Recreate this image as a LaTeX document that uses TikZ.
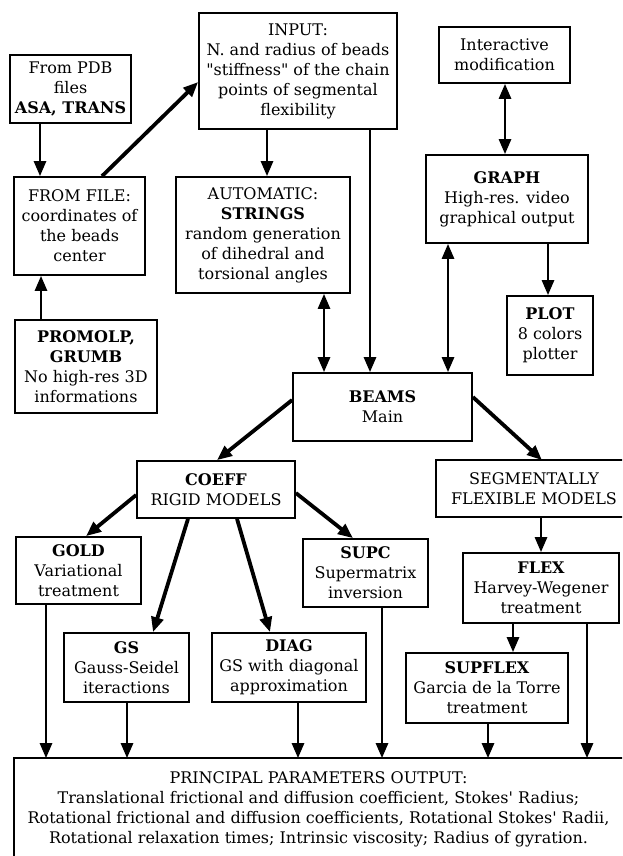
\documentclass[tikz,border=0pt]{standalone}
\usepackage{fontspec}
\setmainfont{DejaVu Serif}[Ligatures=TeXOff]
\usetikzlibrary{arrows.meta}
\begin{document}
\begin{tikzpicture}[x=1pt,y=-1pt,
  bx/.style={draw,line width=1.7pt,align=center,inner sep=0pt,font=\fontsize{16}{20}\selectfont},
  open/.style={bx,draw=none},
  edge/.style={line width=1.7pt},
  arr/.style={line width=2.7pt,-{Triangle[length=15pt,width=12pt]}},
  darr/.style={line width=2.7pt,{Triangle[length=15pt,width=12pt]}-{Triangle[length=15pt,width=12pt]}},
  thk/.style={line width=3.8pt}]
\useasboundingbox (0,0) rectangle (622,856);
\clip (0,0) rectangle (622,856);
\fill[white] (0,0) rectangle (622,856);

\node[bx,minimum width=121pt,minimum height=68pt] (pdb) at (70.5,89) {From PDB\\files\\\textbf{ASA, TRANS}};
\node[bx,minimum width=198pt,minimum height=116pt] (input) at (298,71) {INPUT:\\N. and radius of beads\\"stiffness" of the chain\\points of segmental\\flexibility};
\node[bx,minimum width=131pt,minimum height=56pt] (inter) at (504.5,55) {Interactive\\modification};
\node[bx,minimum width=131pt,minimum height=98pt] (fromfile) at (79.5,226) {FROM FILE:\\coordinates of\\the beads\\center};
\node[bx,minimum width=174pt,minimum height=116pt] (auto) at (263,235) {AUTOMATIC:\\\textbf{STRINGS}\\random generation\\of dihedral and\\torsional angles};
\node[bx,minimum width=162pt,minimum height=88pt] (graph) at (507,199) {\textbf{GRAPH}\\High-res. video\\graphical output};
\node[bx,minimum width=86pt,minimum height=79pt] (plot) at (550,335.5) {\textbf{PLOT}\\8 colors\\plotter};
\node[bx,minimum width=142pt,minimum height=93pt] (promolp) at (86,366.5) {\textbf{PROMOLP,}\\\textbf{GRUMB}\\No high-res 3D\\informations};
\node[bx,minimum width=179pt,minimum height=68pt] (beams) at (382.5,407) {\textbf{BEAMS}\\Main};
\node[bx,minimum width=158pt,minimum height=57pt] (coeff) at (216,489.5) {\textbf{COEFF}\\RIGID MODELS};
\node[open,minimum width=194pt,minimum height=55pt] (seg) at (534,488.5) {SEGMENTALLY\\FLEXIBLE MODELS};
\draw[edge] ([xshift=30pt]seg.north east) -| (seg.south west) -- ([xshift=30pt]seg.south east);
\node[bx,minimum width=125pt,minimum height=67pt] (gold) at (78.5,570.5) {\textbf{GOLD}\\Variational\\treatment};
\node[bx,minimum width=125pt,minimum height=68pt] (supc) at (365.5,573) {\textbf{SUPC}\\Supermatrix\\inversion};
\node[bx,minimum width=156pt,minimum height=70pt] (flex) at (541,588) {\textbf{FLEX}\\Harvey-Wegener\\treatment};
\node[bx,minimum width=125pt,minimum height=69pt] (gs) at (126.5,667.5) {\textbf{GS}\\Gauss-Seidel\\iteractions};
\node[bx,minimum width=154pt,minimum height=69pt] (diag) at (289,667.5) {\textbf{DIAG}\\GS with diagonal\\approximation};
\node[bx,minimum width=162pt,minimum height=70pt] (supflex) at (487,688) {\textbf{SUPFLEX}\\Garcia de la Torre\\treatment};
\node[open,minimum width=607pt,minimum height=100pt] (out) at (318.5,809) {PRINCIPAL PARAMETERS OUTPUT:\\Translational frictional and diffusion coefficient, Stokes' Radius;\\Rotational frictional and diffusion coefficients, Rotational Stokes' Radii,\\Rotational relaxation times; Intrinsic viscosity; Radius of gyration.};
\draw[edge] ([yshift=-30pt]out.south west) |- ([xshift=30pt]out.north east);

% top part
\draw[arr] ([xshift=-30.5pt]pdb.south) -- ([xshift=-30.5pt]pdb.south |- fromfile.north);
\draw[arr,thk] ([xshift=22.5pt]fromfile.north) -- ([yshift=-11pt]input.west);
\draw[arr] ([xshift=-31pt]input.south) -- ([xshift=-31pt]input.south |- auto.north);
\draw[arr] ([xshift=72pt]input.south) -- ([xshift=72pt]input.south |- beams.north);
\draw[darr] ([xshift=61pt]auto.south) -- ([xshift=61pt]auto.south |- beams.north);
\draw[darr] ([xshift=-59pt]graph.south) -- ([xshift=-59pt]graph.south |- beams.north);
\draw[arr] ([xshift=41pt]graph.south) -- ([xshift=41pt]graph.south |- plot.north);
\draw[darr] ([xshift=0.5pt]inter.south) -- ([xshift=0.5pt]inter.south |- graph.north);
\draw[arr] ([xshift=-45pt]promolp.north) -- ([xshift=-45pt]promolp.north |- fromfile.south);

% middle
\draw[arr,thk] ([yshift=7pt]beams.west) -- ([xshift=1pt]coeff.north);
\draw[arr,thk] ([yshift=10pt]beams.east) -- ([xshift=8pt]seg.north);
\draw[arr,thk] ([yshift=-5.5pt]coeff.west) -- ([xshift=7.5pt]gold.north);
\draw[arr,thk] ([xshift=-28pt]coeff.south) -- ([xshift=26.5pt]gs.north);
\draw[arr,thk] ([xshift=21pt]coeff.south) -- ([xshift=-19pt]diag.north);
\draw[arr,thk] ([yshift=-3.5pt]coeff.east) -- ([xshift=-12.5pt]supc.north);
\draw[arr] ([xshift=7pt]seg.south) -- ([xshift=7pt]seg.south |- flex.north);
\draw[arr] ([xshift=-28pt]flex.south) -- ([xshift=-28pt]flex.south |- supflex.north);

% into output
\draw[arr] ([xshift=-32.5pt]gold.south) -- ([xshift=-32.5pt]gold.south |- out.north);
\draw[arr] ([xshift=0.5pt]gs.south) -- ([xshift=0.5pt]gs.south |- out.north);
\draw[arr] ([xshift=9pt]diag.south) -- ([xshift=9pt]diag.south |- out.north);
\draw[arr] ([xshift=16.5pt]supc.south) -- ([xshift=16.5pt]supc.south |- out.north);
\draw[arr] ([xshift=1pt]supflex.south) -- ([xshift=1pt]supflex.south |- out.north);
\draw[arr] ([xshift=46pt]flex.south) -- ([xshift=46pt]flex.south |- out.north);
\end{tikzpicture}
\end{document}
